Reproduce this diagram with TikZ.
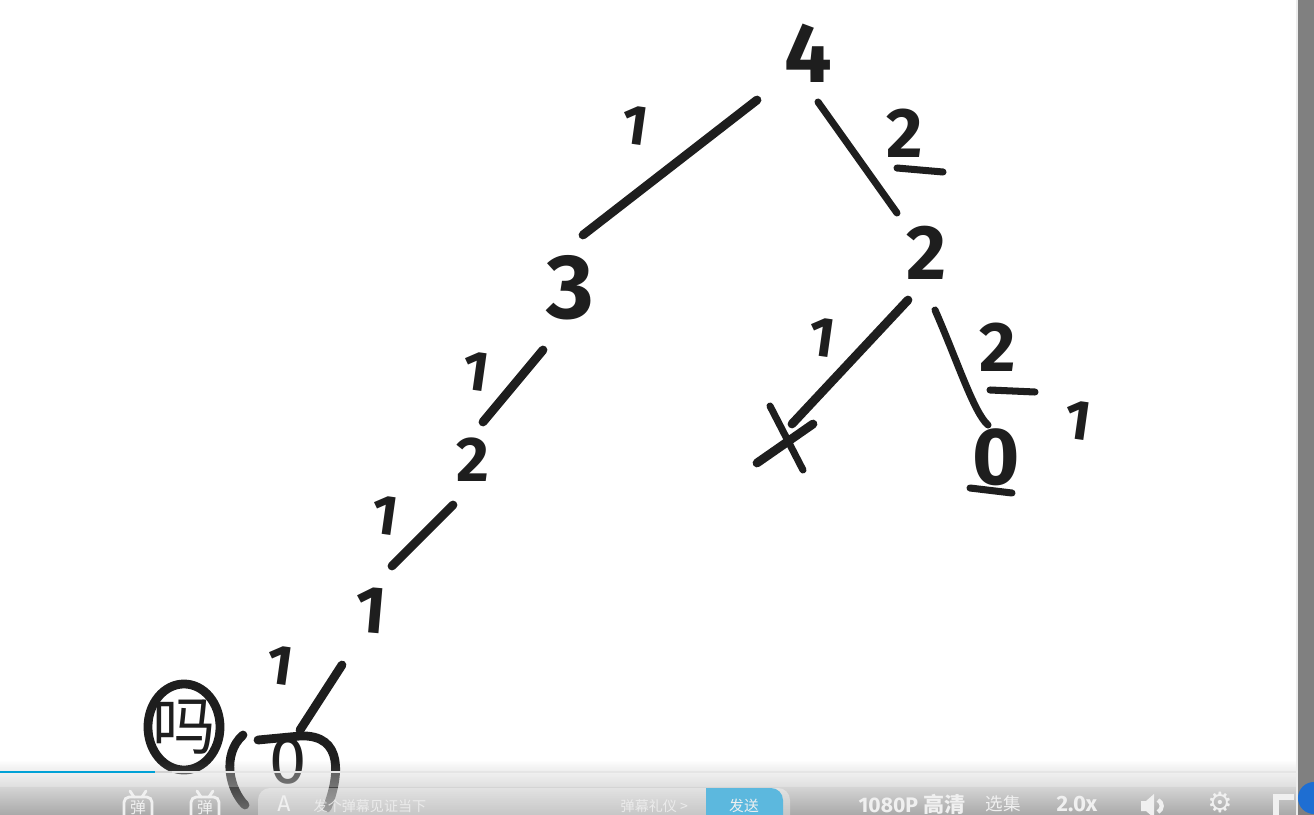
\documentclass[tikz,border=0pt]{standalone}
\usepackage{fontspec}
\setmainfont{Fira Sans}
\newfontfamily\cjk{Noto Sans CJK SC}
\newfontfamily\dejavu{DejaVu Sans}
\usetikzlibrary{calc,fadings}
\definecolor{inkc}{RGB}{30,30,30}
\definecolor{biliblue}{RGB}{0,161,214}
\definecolor{sendblue}{RGB}{92,184,222}
\definecolor{cornerblue}{RGB}{30,110,210}
\definecolor{bartxt}{RGB}{240,240,240}
\begin{document}
\begin{tikzpicture}[x=0.01cm,y=-0.01cm,
  ink/.style={line width=2.5pt, line cap=round, line join=round, draw=inkc},
  thinink/.style={line width=2pt, line cap=round, line join=round, draw=inkc},
  dig/.style={inner sep=0pt, font=\bfseries\fontsize{#1}{#1}\selectfont, text=inkc},
  lbl/.style={inner sep=0pt, font=\bfseries\fontsize{16pt}{16pt}\selectfont, rotate=-8, text=inkc},
  bartext/.style={text=bartxt, inner sep=0pt},
  tvicon/.style={draw=bartxt, line width=0.8pt, rounded corners=1.5pt},
]
\useasboundingbox (0,0) rectangle (1314,815);
\fill[white] (0,0) rectangle (1314,815);

% tree nodes
\node[dig=24pt] (n4) at (808,53) {4};
\node[dig=26pt] (n3) at (570,288) {3};
\node[dig=22pt] (r2) at (926,253) {2};
\node[dig=18pt] (l2) at (473,460) {2};
\node[dig=19pt, rotate=-5] (n1) at (371,610) {1};
\node[inner sep=0pt, font=\fontsize{19pt}{19pt}\selectfont, text=inkc] (n0) at (288,761) {0};
\coordinate (nx) at (785,440);
\node[dig=23pt] (r0) at (996,457) {0};

% edge labels
\node[lbl] (a1) at (635,125) {1};
\node[dig=20pt] (a2) at (905,133) {2};
\node[lbl] (b1) at (476,371) {1};
\node[lbl] (c1) at (385,515) {1};
\node[lbl] (d1) at (280,665) {1};
\node[lbl] (e1) at (822,337) {1};
\node[dig=20pt] (e2) at (998,347) {2};
\node[lbl] (f1) at (1078,420) {1};

% underlines
\draw[thinink] ([shift={(-8,35)}]a2.center) -- ([shift={(38,39)}]a2.center);
\draw[thinink] ([shift={(-8,43)}]e2.center) -- ([shift={(37,45)}]e2.center);
\draw[thinink] ([shift={(-26,31)}]r0.center) -- ([shift={(16,36)}]r0.center);

% edges
\draw[ink] ([shift={(-51,47)}]n4.center) -- ([shift={(13,-53)}]n3.center);
\draw[thinink] ([shift={(10,49)}]n4.center) -- ([shift={(-29,-40)}]r2.center);
\draw[ink] ([shift={(-27,62)}]n3.center) -- ([shift={(10,-38)}]l2.center);
\draw[ink] ([shift={(-20,45)}]l2.center) -- ([shift={(21,-44)}]n1.center);
\draw[ink] ([shift={(-29,55)}]n1.center) -- ([shift={(12,-31)}]n0.center);
\draw[ink] ([shift={(-18,47)}]r2.center) -- ([shift={(7,-16)}]nx);
\draw[thinink] ([shift={(9,57)}]r2.center) .. controls +(22,50) and +(-14,-12) .. ([shift={(-8,-32)}]r0.center);

% the cross
\draw[ink] ([shift={(-28,23)}]nx) -- ([shift={(28,-16)}]nx);
\draw[thinink] ([shift={(-15,-34)}]nx) -- ([shift={(18,30)}]nx);

% circling round the bottom 0
\draw[ink] ([shift={(-45,-26)}]n0.center) .. controls +(-22,20) and +(-15,-15) .. ([shift={(-43,44)}]n0.center);
\draw[ink] ([shift={(-30,-21)}]n0.center) -- ([shift={(12,-25)}]n0.center) .. controls +(45,-2) and +(12,-30) .. ([shift={(39,47)}]n0.center);

% circled character
\node[inner sep=0pt, font=\cjk\fontsize{18pt}{18pt}\selectfont, text=inkc] (q) at (184,727) {吗};
\draw[ink] (q.center) ellipse [x radius=0.36cm, y radius=0.43cm];

% player bar (gradient)
\fill[black!45, fill opacity=0.75, path fading=north] (0,760) rectangle (1314,815);
\fill[white, fill opacity=0.25] (0,772) rectangle (1314,787);
\draw[white!80!gray, line width=0.6pt] (0,772) -- (1298,772);
\draw[white!65!gray, line width=0.6pt] (0,772) -- (172,772);
\draw[biliblue, line width=0.6pt] (0,772) -- (155,772);

% danmaku icons
\draw[tvicon] (124,797) rectangle (152,822);
\draw[bartxt, line width=0.8pt, line cap=round] (130,791) -- (134,797) (146,791) -- (142,797);
\node[bartext, font=\cjk\fontsize{4.5pt}{4.5pt}\selectfont] (t1) at (138,808) {弹};
\draw[tvicon] (191,797) rectangle (219,822);
\draw[bartxt, line width=0.8pt, line cap=round] (197,791) -- (201,797) (213,791) -- (209,797);
\node[bartext, font=\cjk\fontsize{4.5pt}{4.5pt}\selectfont] (t2) at (205,808) {弹};

% input box
\fill[white, fill opacity=0.35, rounded corners=0.12cm] (258,788) rectangle (790,835);
\node[bartext, font=\fontsize{6.5pt}{6.5pt}\selectfont] (fa) at (284,804) {A};
\node[bartext, anchor=west, font=\cjk\fontsize{4pt}{4pt}\selectfont, text opacity=0.85] (ph) at (313,806) {发个弹幕见证当下};
\node[bartext, anchor=west, font=\cjk\fontsize{4pt}{4pt}\selectfont, text opacity=0.85] (ly) at (620,806) {弹幕礼仪 \textgreater};
\fill[sendblue, rounded corners=0.12cm] (706,788) rectangle (783,835);
\fill[sendblue] (706,788) rectangle (730,835);
\node[bartext, font=\cjk\fontsize{4.2pt}{4.2pt}\selectfont] (fs) at (744,806) {发送};

% right controls
\node[bartext, anchor=west, font=\bfseries\fontsize{6pt}{6pt}\selectfont] (q1) at (858,804) {1080P \cjk 高清};
\node[bartext, font=\cjk\fontsize{5pt}{5pt}\selectfont] (q2) at (1003,804) {选集};
\node[bartext, font=\bfseries\fontsize{6.3pt}{6.3pt}\selectfont] (q3) at (1077,804) {2.0x};
\fill[bartxt] (1141,801) -- (1146,801) -- (1154,794) -- (1154,818) -- (1146,811) -- (1141,811) -- cycle;
\draw[bartxt, line width=1.2pt] (1158,800) .. controls (1163,803) and (1163,809) .. (1158,812);
\node[bartext, font=\dejavu\fontsize{8pt}{8pt}\selectfont] (gear) at (1220,803) {⚙};
\draw[bartxt, line width=1.6pt] (1294,797) -- (1276,797) -- (1276,818);

% right strip
\fill[gray] (1298,0) rectangle (1314,815);
\draw[white!85!gray, line width=0.4pt] (1297,0) -- (1297,815);
\fill[cornerblue] (1314,798) circle [radius=0.16cm];
\end{tikzpicture}
\end{document}
